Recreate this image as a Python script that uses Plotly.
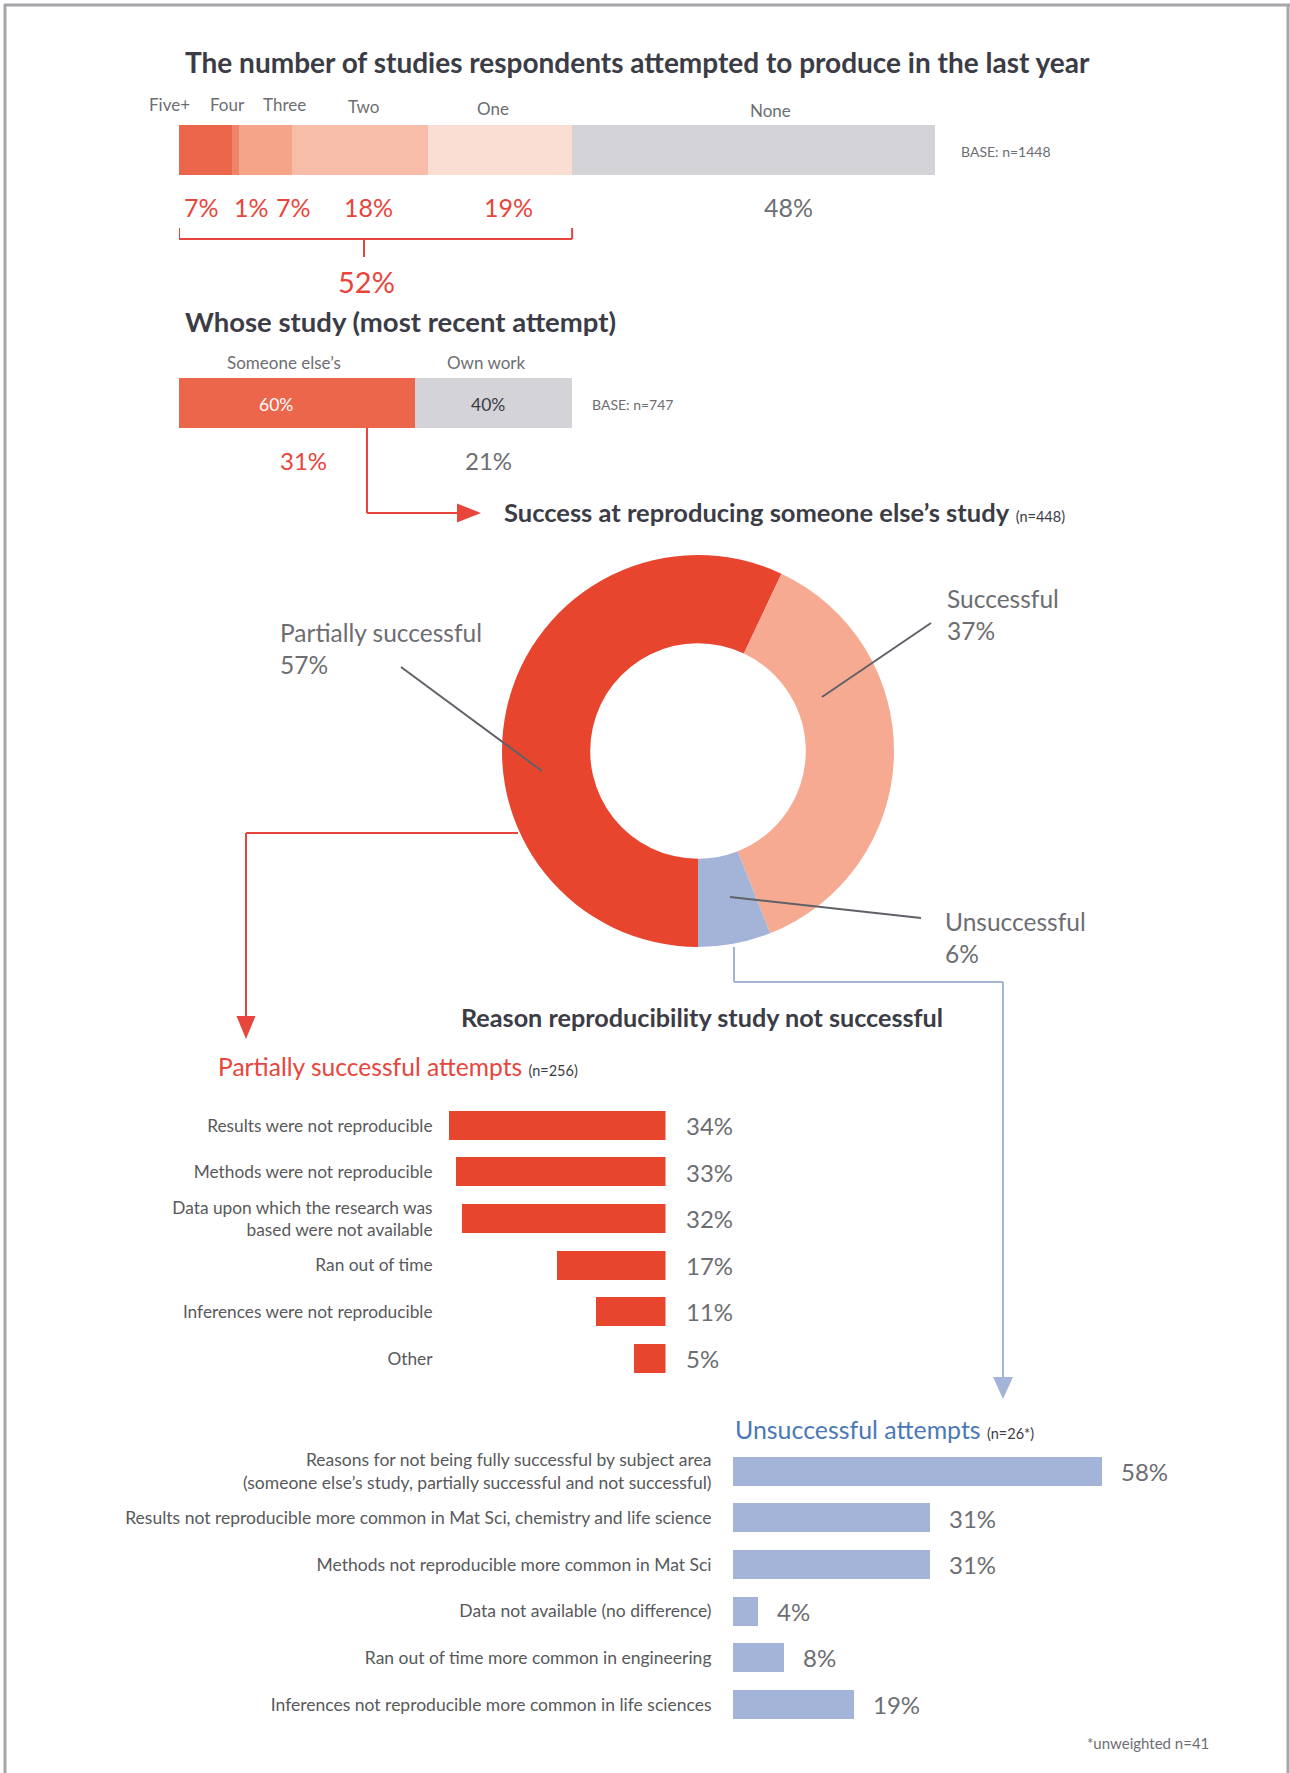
import plotly.graph_objects as go

W, H = 1290, 1773


def px(x):
    return x / W


def py(y):
    return 1 - y / H


# ---- data -------------------------------------------------------------
attempt_cats = ["Five+", "Four", "Three", "Two", "One", "None"]
attempt_pct = [7, 1, 7, 18, 19, 48]
attempt_base = "BASE: n=1448"

whose_cats = ["Someone else’s", "Own work"]
whose_pct = [60, 40]
whose_base = "BASE: n=747"

success_labels = ["Partially successful", "Successful", "Unsuccessful"]
success_pct = [57, 37, 6]
success_n = "(n=448)"

partial_reasons = [
    "Results were not reproducible",
    "Methods were not reproducible",
    "Data upon which the research was<br>based were not available",
    "Ran out of time",
    "Inferences were not reproducible",
    "Other",
]
partial_pct = [34, 33, 32, 17, 11, 5]
partial_n = "(n=256)"

unsucc_reasons = [
    "Reasons for not being fully successful by subject area<br>(someone else’s study, partially successful and not successful)",
    "Results not reproducible more common in Mat Sci, chemistry and life science",
    "Methods not reproducible more common in Mat Sci",
    "Data not available (no difference)",
    "Ran out of time more common in engineering",
    "Inferences not reproducible more common in life sciences",
]
unsucc_pct = [58, 31, 31, 4, 8, 19]
unsucc_n = "(n=26*)"
footnote = "*unweighted n=41"

# ---- styles -----------------------------------------------------------
FONT = "Lato"
DARK = "#3b3c45"
GREY = "#6d6e72"
LABEL = "#58595b"
RED = "#e8453c"
RED_BAR = "#e8452f"
BLUE_BAR = "#a4b4d8"
BLUE_TXT = "#4a78b8"
attempt_colors = ["#ec664c", "#f08468", "#f5a487", "#f8bda8", "#faded4", "#d3d3d8"]
whose_colors = ["#ec664c", "#d3d3d8"]
pie_colors = [RED_BAR, "#f6aa91", BLUE_BAR]

fig = go.Figure()
ann = []
shapes = []


def text(x, y, s, size, color=GREY, xanchor="left", bold=False, xref="paper", yref="paper",
         xshift=0, yshift=0, align="left"):
    ann.append(dict(x=x, y=y, xref=xref, yref=yref, text=f"<b>{s}</b>" if bold else s,
                    showarrow=False, xanchor=xanchor, yanchor="middle", align=align,
                    xshift=xshift, yshift=yshift,
                    font=dict(family=FONT, size=size, color=color)))


def line(x0, y0, x1, y1, color, width=2):
    shapes.append(dict(type="line", xref="paper", yref="paper",
                       x0=px(x0), y0=py(y0), x1=px(x1), y1=py(y1),
                       line=dict(color=color, width=width)))


def tri(points, color):
    path = "M " + " L ".join(f"{px(a)},{py(b)}" for a, b in points) + " Z"
    shapes.append(dict(type="path", xref="paper", yref="paper", path=path,
                       fillcolor=color, line=dict(width=0)))


# ---- 1. studies attempted (stacked bar) -------------------------------
for cat, val, col in zip(attempt_cats, attempt_pct, attempt_colors):
    fig.add_trace(go.Bar(x=[val], y=[0], orientation="h", width=1, marker=dict(color=col, line=dict(width=0)),
                         xaxis="x", yaxis="y", showlegend=False, hoverinfo="skip"))

text(px(183), py(62), "The number of studies respondents attempted to produce in the last year", 28, DARK, bold=True)

name_shift = [-36, -8, 19, 3, -7, 17]
name_yshift = [0, 0, 0, -2, -4, -6]
pct_shift = [-4, 16, 28, 8, 8, 35]
start = 0
attempted_total = sum(attempt_pct[:-1])
for i, (cat, val) in enumerate(zip(attempt_cats, attempt_pct)):
    centre = start + val / 2
    start += val
    text(centre, py(104), cat, 17, GREY, xanchor="center", xref="x", xshift=name_shift[i], yshift=name_yshift[i])
    col = GREY if cat == "None" else RED
    text(centre, py(207), f"{val}%", 25, col, xanchor="center", xref="x", xshift=pct_shift[i])

text(px(959), py(152), attempt_base, 14, GREY)

# bracket over the respondents who attempted at least one study
for x0, y0, x1, y1 in [(0, 228, 0, 239), (attempted_total, 228, attempted_total, 239),
                       (0, 239, attempted_total, 239)]:
    shapes.append(dict(type="line", xref="x", yref="paper", x0=x0, x1=x1, y0=py(y0), y1=py(y1),
                       line=dict(color=RED, width=2)))
line(364, 239, 364, 257, RED)
text(px(366), py(281), f"{attempted_total}%", 29, RED, xanchor="center")

# ---- 2. whose study ---------------------------------------------------
text(px(183), py(322), "Whose study (most recent attempt)", 27.5, DARK, bold=True)
whose_share = [p * attempted_total / 100 for p in whose_pct]
for cat, w, col in zip(whose_cats, whose_share, whose_colors):
    fig.add_trace(go.Bar(x=[w], y=[0], orientation="h", width=1, marker=dict(color=col, line=dict(width=0)),
                         xaxis="x2", yaxis="y2", showlegend=False, hoverinfo="skip"))
start = 0
wname_shift = [-13, -7]
win_shift = [-21, -6]
wbelow_shift = [7, -5]
win_color = ["#ffffff", DARK]
wbelow_color = [RED, GREY]
for i, (cat, pct, w) in enumerate(zip(whose_cats, whose_pct, whose_share)):
    centre = start + w / 2
    start += w
    text(centre, py(362), cat, 17, GREY, xanchor="center", xref="x2", xshift=wname_shift[i])
    text(centre, py(404), f"{pct}%", 17.5, win_color[i], xanchor="center", xref="x2", xshift=win_shift[i])
    text(centre, py(460), f"{round(w)}%", 24, wbelow_color[i], xanchor="center", xref="x2", xshift=wbelow_shift[i])
text(px(590), py(404), whose_base, 14, GREY)

# arrow to the success donut
line(367, 428, 367, 513, RED)
line(367, 513, 460, 513, RED)
tri([(457, 503.5), (481, 513), (457, 522.5)], RED)
ann.append(dict(x=px(502), y=py(512), xref="paper", yref="paper", showarrow=False,
                xanchor="left", yanchor="middle",
                text=f"<b>Success at reproducing someone else’s study</b> <span style='font-size:14.5px'>{success_n}</span>",
                font=dict(family=FONT, size=25.5, color=DARK)))

# ---- 3. success donut -------------------------------------------------
fig.add_trace(go.Pie(values=success_pct, labels=success_labels, hole=0.55, sort=False,
                     direction="clockwise", rotation=180, textinfo="none",
                     marker=dict(colors=pie_colors, line=dict(width=0)),
                     domain=dict(x=[px(502), px(894)], y=[py(947), py(555)]),
                     showlegend=False, hoverinfo="label+percent"))

pie_label_pos = [(278, 648), (945, 614), (943, 937)]
for (lx, ly), lab, val in zip(pie_label_pos, success_labels, success_pct):
    text(px(lx), py(ly), f"{lab}<br>{val}%", 24.5, GREY)
LEAD = "#606168"
line(401, 667, 542, 771, LEAD)
line(931, 623, 822, 697, LEAD)
line(730, 897, 921, 918, LEAD)

# connectors down to the reasons panels
line(518, 833, 246, 833, RED)
line(246, 833, 246, 1018, RED)
tri([(236.5, 1016), (246, 1039), (255.5, 1016)], RED)

line(734, 947, 734, 982, BLUE_BAR)
line(734, 982, 1003, 982, BLUE_BAR)
line(1003, 982, 1003, 1378, BLUE_BAR)
tri([(993, 1377), (1003, 1399), (1013, 1377)], BLUE_BAR)

# ---- 4. reasons -------------------------------------------------------
text(px(702), py(1017), "Reason reproducibility study not successful", 25.2, DARK, xanchor="center", bold=True)
ann.append(dict(x=px(216), y=py(1066), xref="paper", yref="paper", showarrow=False,
                xanchor="left", yanchor="middle",
                text=f"Partially successful attempts <span style='font-size:14.5px;color:{DARK}'>{partial_n}</span>",
                font=dict(family=FONT, size=24.6, color=RED)))
ann.append(dict(x=px(733), y=py(1429), xref="paper", yref="paper", showarrow=False,
                xanchor="left", yanchor="middle",
                text=f"Unsuccessful attempts <span style='font-size:14.5px;color:{DARK}'>{unsucc_n}</span>",
                font=dict(family=FONT, size=24.9, color=BLUE_TXT)))

fig.add_trace(go.Bar(x=partial_pct, y=partial_reasons, orientation="h", width=0.622,
                     marker=dict(color=RED_BAR, line=dict(width=0)),
                     xaxis="x3", yaxis="y3", showlegend=False, hoverinfo="x+y"))
for r, v in zip(partial_reasons, partial_pct):
    text(0, r, f"{v}%", 24, GREY, xref="x3", yref="y3", xshift=18)

fig.add_trace(go.Bar(x=unsucc_pct, y=unsucc_reasons, orientation="h", width=0.622,
                     marker=dict(color=BLUE_BAR, line=dict(width=0)),
                     xaxis="x4", yaxis="y4", showlegend=False, hoverinfo="x+y"))
for r, v in zip(unsucc_reasons, unsucc_pct):
    text(v, r, f"{v}%", 24, GREY, xref="x4", yref="y4", xshift=17)

text(px(1211), py(1743), footnote, 15, GREY, xanchor="right")

# ---- frame ------------------------------------------------------------
line(4, 5, 1290, 5, "#a6a6ab", 3)
line(5, 4, 5, 1773, "#a6a6ab", 3)
line(1288, 4, 1288, 1773, "#a6a6ab", 3)

# ---- axes -------------------------------------------------------------
hidden = dict(visible=False, fixedrange=True)
PX_PER_PCT = 6.36
fig.update_layout(
    width=W, height=H, autosize=False,
    margin=dict(l=0, r=0, t=0, b=0, pad=0),
    paper_bgcolor="white", plot_bgcolor="rgba(0,0,0,0)",
    font=dict(family=FONT, color=GREY),
    barmode="stack", bargap=0,
    xaxis=dict(domain=[px(179), px(935)], range=[0, 100], **hidden),
    yaxis=dict(domain=[py(175), py(125)], range=[-0.5, 0.5], **hidden),
    xaxis2=dict(domain=[px(179), px(935)], range=[0, 100], anchor="y2", **hidden),
    yaxis2=dict(domain=[py(428), py(378)], range=[-0.5, 0.5], anchor="x2", **hidden),
    xaxis3=dict(domain=[px(440), px(665.5)], range=[(665.5 - 440) / PX_PER_PCT, 0], anchor="y3", **hidden),
    yaxis3=dict(domain=[py(1381.8), py(1102.2)], range=[5.5, -0.5], anchor="x3",
                type="category", categoryorder="array", categoryarray=partial_reasons,
                showgrid=False, zeroline=False, showline=False, ticks="outside", ticklen=3,
                tickcolor="rgba(0,0,0,0)", tickfont=dict(family=FONT, size=17.3, color=LABEL),
                fixedrange=True),
    xaxis4=dict(domain=[px(733), px(1180)], range=[0, 447 / PX_PER_PCT], anchor="y4", **hidden),
    yaxis4=dict(domain=[py(1727.8), py(1448.2)], range=[5.5, -0.5], anchor="x4",
                type="category", categoryorder="array", categoryarray=unsucc_reasons,
                showgrid=False, zeroline=False, showline=False, ticks="outside", ticklen=17,
                tickcolor="rgba(0,0,0,0)", tickfont=dict(family=FONT, size=17.5, color=LABEL),
                fixedrange=True),
    annotations=ann,
    shapes=shapes,
)

fig.write_html("out.html")
